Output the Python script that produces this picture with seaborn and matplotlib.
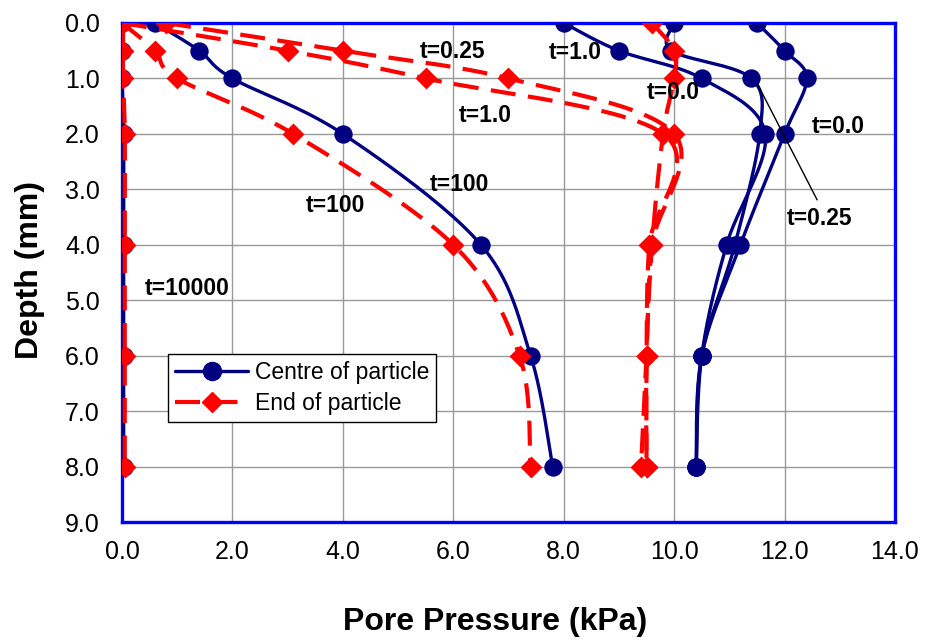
import numpy as np
import pandas as pd
import matplotlib
matplotlib.use("Agg")
import matplotlib.pyplot as plt
import seaborn as sns
from matplotlib.lines import Line2D

# ---------------- data ----------------
depth = [0.0, 0.5, 1.0, 2.0, 4.0, 6.0, 8.0]

centre_t0 = [11.5, 12.0, 12.4, 12.0, 11.2, 10.5, 10.4]
centre_t025 = [10.0, 9.95, 11.4, 11.55, 11.1, 10.5, 10.4]
centre_t1 = [8.0, 9.0, 10.5, 11.65, 10.95, 10.5, 10.4]
centre_t100 = [0.6, 1.4, 2.0, 4.0, 6.5, 7.4, 7.8]
centre_t10000 = [0.0, 0.0, 0.0, 0.03, 0.03, 0.03, 0.03]

end_t0 = [9.6, 10.0, 10.0, 9.8, 9.6, 9.5, 9.5]
end_t025 = [0.8, 4.0, 7.0, 10.0, 9.6, 9.5, 9.4]
end_t1 = [0.0, 3.0, 5.5, 9.8, 9.55, 9.5, 9.5]
end_t100 = [0.0, 0.6, 1.0, 3.1, 6.0, 7.2, 7.4]
end_t10000 = [0.02, 0.02, 0.02, 0.05, 0.05, 0.05, 0.05]

centre_series = [centre_t0, centre_t025, centre_t1, centre_t100, centre_t10000]
end_series = [end_t0, end_t025, end_t1, end_t100, end_t10000]

labels = ["t=0.25", "t=1.0", "t=100", "t=100", "t=10000", "t=1.0", "t=0.0", "t=0.0", "t=0.25"]
label_x = [5.98, 6.58, 6.12, 3.86, 1.18, 8.2, 9.98, 12.97, 12.64]
label_y = [0.52, 1.66, 2.92, 3.29, 4.78, 0.54, 1.25, 1.86, 3.52]

xticks = [0, 2, 4, 6, 8, 10, 12, 14]
yticks = [0, 1, 2, 3, 4, 5, 6, 7, 8, 9]

NAVY = "#000080"
RED = "#FF0000"
BLUE = "#0000FF"


def smooth(x, y, n=24):
    """Catmull-Rom smoothing similar to spreadsheet 'smoothed line'."""
    P = np.column_stack([x, y]).astype(float)
    P = np.vstack([P[0], P, P[-1]])
    out = []
    t = np.linspace(0, 1, n, endpoint=False)[:, None]
    for i in range(1, len(P) - 2):
        p0, p1, p2, p3 = P[i - 1], P[i], P[i + 1], P[i + 2]
        pts = 0.5 * ((2 * p1) + (-p0 + p2) * t
                     + (2 * p0 - 5 * p1 + 4 * p2 - p3) * t ** 2
                     + (-p0 + 3 * p1 - 3 * p2 + p3) * t ** 3)
        out.append(pts)
    out.append(P[-2][None, :])
    S = np.vstack(out)
    return S[:, 0], S[:, 1]


sns.set_theme(style="white")
plt.rcParams["font.family"] = ["Liberation Sans", "DejaVu Sans"]
plt.rcParams["text.color"] = "black"
plt.rcParams["axes.labelcolor"] = "black"

fig = plt.figure(figsize=(9.26, 6.42), dpi=100)
ax = fig.add_axes([122 / 926, 1 - 522 / 642, (895 - 122) / 926, (522 - 23) / 642])

ax.set_xlim(0, 14)
ax.set_ylim(9, 0)
ax.set_xticks(xticks)
ax.set_yticks(yticks)
ax.set_xticklabels([f"{v:.1f}" for v in xticks])
ax.set_yticklabels([f"{v:.1f}" for v in yticks])
ax.grid(True, color="#999999", linewidth=1.0)
ax.set_axisbelow(True)

# centre of particle
for s in centre_series:
    sx, sy = smooth(s, depth)
    sns.lineplot(x=sx, y=sy, sort=False, estimator=None, ax=ax, color=NAVY,
                 linewidth=2.4, zorder=3)
    sns.scatterplot(x=s, y=depth, ax=ax, marker="o", s=175, color=NAVY,
                    edgecolor=NAVY, linewidth=0, zorder=4)

# end of particle
for s in end_series:
    sx, sy = smooth(s, depth)
    sns.lineplot(x=sx, y=sy, sort=False, estimator=None, ax=ax, color=RED,
                 linewidth=3.0, linestyle=(0, (6, 3)), zorder=5)
    sns.scatterplot(x=s, y=depth, ax=ax, marker="D", s=125, color=RED,
                    edgecolor=RED, linewidth=0, zorder=6)

# leader line
ax.plot([11.52, 12.59], [1.12, 3.19], color="black", linewidth=1.0, zorder=7)

for txt, lx, ly in zip(labels, label_x, label_y):
    ax.text(lx, ly, txt, fontsize=16.5, fontweight="bold", ha="center",
            va="center", color="black", zorder=8)

for sp in ax.spines.values():
    sp.set_visible(True)
    sp.set_color(BLUE)
    sp.set_linewidth(2.4)

ax.tick_params(axis="both", which="both", direction="out", length=5,
               color=BLUE, width=1, labelsize=18, labelcolor="black")
ax.tick_params(axis="y", pad=11)
ax.tick_params(axis="x", pad=8)

ax.set_xlabel("Pore Pressure (kPa)", fontsize=23, fontweight="bold", color="black")
ax.set_ylabel("Depth (mm)", fontsize=23, fontweight="bold", color="black")
ax.xaxis.label.set_va("center")
ax.yaxis.label.set_va("center")
ax.xaxis.set_label_coords((495 - 122) / 773, (522 - 622) / 499)
ax.yaxis.set_label_coords((30 - 122) / 773, (522 - 270) / 499)

handles = [
    Line2D([0], [0], color=NAVY, linewidth=2.4, marker="o", markersize=13),
    Line2D([0], [0], color=RED, linewidth=3.0, linestyle=(0, (6, 3)),
           marker="D", markersize=10),
]
leg = ax.legend(handles, ["Centre of particle", "End of particle"],
                loc="upper left", bbox_to_anchor=((168 - 122) / 773, (522 - 354) / 499),
                borderaxespad=0, fontsize=16.5, frameon=True, fancybox=False,
                edgecolor="black", framealpha=1, handlelength=3.2,
                borderpad=0.3, labelspacing=0.35, handletextpad=0.3)
leg.get_frame().set_linewidth(1.0)
leg.set_zorder(10)
for t in leg.get_texts():
    t.set_color("black")

fig.savefig("out.png", dpi=100)
